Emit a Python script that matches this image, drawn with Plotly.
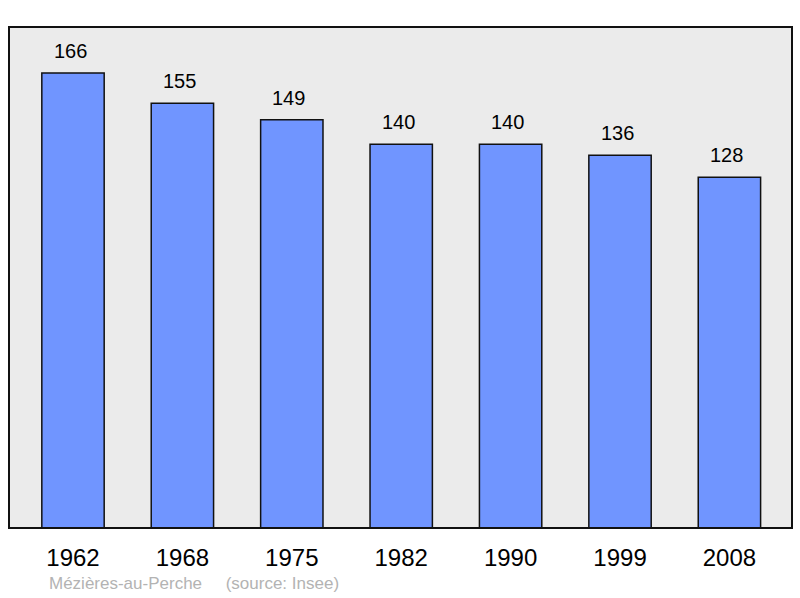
import plotly.graph_objects as go

years = ["1962", "1968", "1975", "1982", "1990", "1999", "2008"]
population = [166, 155, 149, 140, 140, 136, 128]
commune = "Mézières-au-Perche"
source = "(source: Insee)"

fig = go.Figure()
fig.add_trace(go.Bar(
    x=years, y=population, width=0.57,
    marker=dict(color="#7095ff", line=dict(color="#111111", width=1.5)),
    hoverinfo="x+y",
))

# value labels above bars
for i, val in enumerate(population):
    fig.add_annotation(x=i, y=val, text=str(val), showarrow=False,
                       xref="x", yref="y",
                       yanchor="bottom", yshift=9, xshift=-3,
                       font=dict(family="Liberation Sans, Arial", size=20, color="#000000"))

fig.add_annotation(xref="paper", yref="paper", x=0.048, y=-0.11,
                   xanchor="left", yanchor="middle", showarrow=False,
                   text=commune + "\u00a0\u00a0\u00a0\u00a0\u00a0" + source,
                   font=dict(family="Liberation Sans, Arial", size=17, color="#b3b3b3"))

# plot frame
fig.add_shape(type="rect", xref="paper", yref="paper", x0=0, y0=0, x1=1, y1=1,
              line=dict(color="#111111", width=2), layer="above")

fig.update_layout(
    width=800, height=598,
    margin=dict(l=9, r=8, t=27, b=70),
    paper_bgcolor="#ffffff", plot_bgcolor="#ebebeb",
    showlegend=False,
    xaxis=dict(type="category", range=[-0.585, 6.572], showgrid=False, zeroline=False,
               ticks="outside", ticklen=8, tickcolor="rgba(0,0,0,0)",
               tickfont=dict(family="Liberation Sans, Arial", size=24, color="#000000")),
    yaxis=dict(range=[0, 182.8], showgrid=False, zeroline=False,
               showticklabels=False),
)

fig.write_html("out.html", config={"displayModeBar": False},
               post_script="document.body.style.margin='0';")
